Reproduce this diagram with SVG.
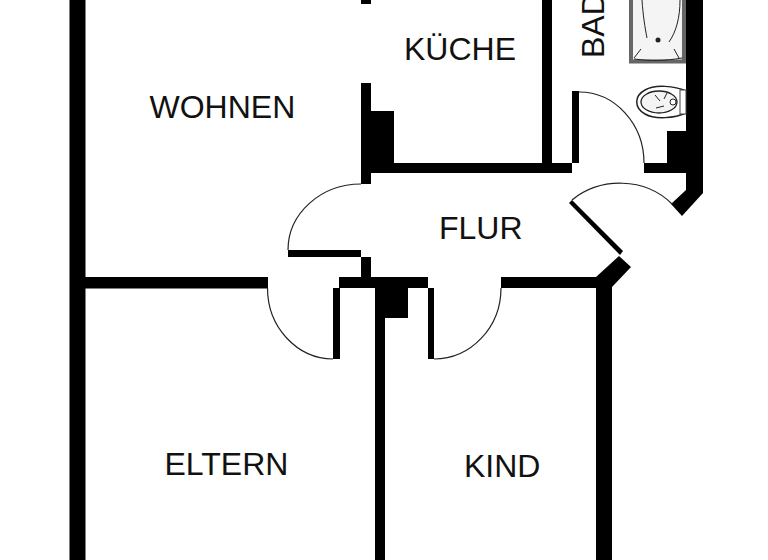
<svg xmlns="http://www.w3.org/2000/svg" width="768" height="560" viewBox="0 0 768 560">
<style>
.wall{fill:#000}
.arc{fill:none;stroke:#222;stroke-width:1.200}
.fx{fill:none;stroke:#222;stroke-width:1}
text{font-family:"Liberation Sans",Arial,sans-serif;font-size:32px;fill:#111}
</style>
<rect width="768" height="560" fill="#fff"/>
<g id="walls">
<rect class="wall" x="69.500" y="0" width="16" height="560"/>
<rect class="wall" x="85" y="277" width="183" height="11.500"/>
<rect class="wall" x="361" y="0" width="10" height="4"/>
<rect class="wall" x="361" y="83" width="10" height="101"/>
<rect class="wall" x="371" y="111" width="23" height="52"/>
<rect class="wall" x="371" y="163" width="201" height="10"/>
<rect class="wall" x="542" y="0" width="10" height="163"/>
<rect class="wall" x="361" y="257" width="10" height="20"/>
<rect class="wall" x="339" y="277" width="89" height="11"/>
<rect class="wall" x="375" y="288" width="10" height="272"/>
<rect class="wall" x="385" y="288" width="23" height="30"/>
<rect class="wall" x="501" y="277" width="95" height="11"/>
<rect class="wall" x="596" y="277" width="16" height="283"/>
<polygon class="wall" points="596,277 619,256 631,267 612,287 596,288"/>
<rect class="wall" x="686" y="0" width="17" height="193"/>
<polygon class="wall" points="703,193 682,216 671,204 686,190"/>
<rect class="wall" x="667" y="131" width="19" height="32"/>
<rect class="wall" x="644" y="163" width="42" height="10"/>
</g>
<g id="doors">
<rect class="wall" x="572" y="91" width="7" height="72"/>
<path class="arc" d="M579 92A65 71 0 0 1 644 163"/>
<polygon class="wall" points="569,203 572,200 623,251 620,255"/>
<path class="arc" d="M572 200C600 177 645 177 672 204"/>
<rect class="wall" x="288" y="250" width="73" height="7"/>
<path class="arc" d="M361 184A73 66 0 0 0 288 250"/>
<rect class="wall" x="333" y="288" width="7" height="71"/>
<path class="arc" d="M267.500 288A66 71 0 0 0 333 359"/>
<rect class="wall" x="428" y="288" width="6" height="71"/>
<path class="arc" d="M434 359A67 71 0 0 0 501 288"/>
</g>
<g id="fixtures">
<rect x="631" y="-4" width="53" height="65.500" fill="#f4f4f4" stroke="#666" stroke-width="4"/>
<path class="fx" d="M642 0C643 15 645 28 647 38M680 0C680 18 676 32 669 42M634 58L641 49M679 58L674 49M634 59C650 61 665 61 682 58"/>
<circle cx="658" cy="40" r="2.500" fill="#222"/>
<path d="M686 91C675 86 655 84 645 90C634 96 634 108 645 114C655 120 675 118 686 113" fill="#fff" stroke="#222" stroke-width="1.500"/>
<ellipse cx="659" cy="102" rx="18" ry="11" fill="#f4f4f4" stroke="#222" stroke-width="1.300"/>
<path class="fx" d="M655 95L660 101M656 108L664 106M667 93L664 99"/>
<circle cx="673" cy="102" r="3" fill="#fff" stroke="#222"/>
<rect x="680" y="90" width="6" height="24" fill="#fff" stroke="#444"/>
</g>
<g id="labels">
<text x="149.500" y="118">WOHNEN</text>
<text x="404" y="60">KÜCHE</text>
<text x="439" y="239">FLUR</text>
<text x="164.500" y="475">ELTERN</text>
<text x="464" y="477">KIND</text>
<text transform="translate(604 58) rotate(-90)">BAD</text>
</g>
</svg>
